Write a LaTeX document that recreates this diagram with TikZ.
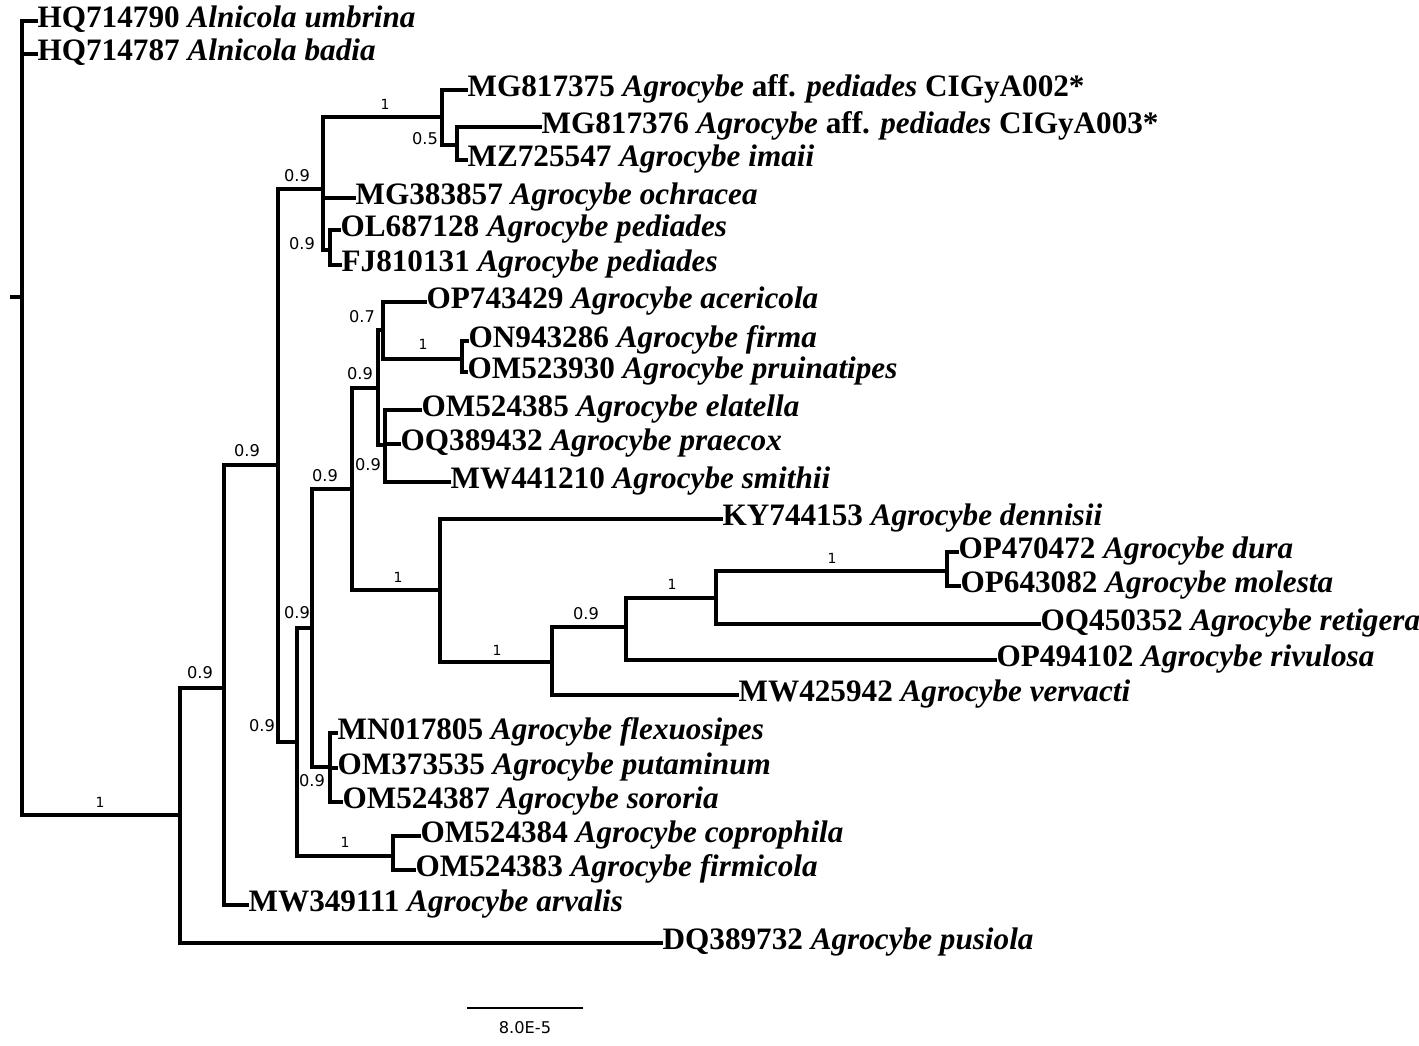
\documentclass[tikz,border=0pt]{standalone}
\usepackage{fontspec}
\setmainfont{Liberation Serif}
\newfontfamily\supfont{DejaVu Sans}
\begin{document}
\begin{tikzpicture}[x=0.5pt,y=-0.5pt,
  br/.style={line width=1.7pt, line join=miter, line cap=rect},
  leaf/.style={anchor=west, inner xsep=0.6pt, inner ysep=0pt, text height=0.68em, text depth=0pt,
    font=\fontsize{15.6}{18}\selectfont\bfseries},
  sup/.style={inner sep=0pt, font=\supfont\fontsize{8.1}{9}\selectfont},
  supone/.style={inner sep=0pt, font=\supfont\fontsize{7}{8}\selectfont}]
\useasboundingbox (0,0) rectangle (1419,1045);
\fill[white] (0,0) rectangle (1419,1045);

% leaves
\node[leaf] (umb) at (36,21) {HQ714790 \textit{Alnicola umbrina}};
\node[leaf] (bad) at (36,54) {HQ714787 \textit{Alnicola badia}};
\node[leaf] (mg75) at (466,90) {MG817375 \textit{Agrocybe} aff. \textit{pediades} CIGyA002*};
\node[leaf] (mg76) at (540,127) {MG817376 \textit{Agrocybe} aff. \textit{pediades} CIGyA003*};
\node[leaf] (mz) at (466,160) {MZ725547 \textit{Agrocybe imaii}};
\node[leaf] (mg83) at (354,198) {MG383857 \textit{Agrocybe ochracea}};
\node[leaf] (ol) at (339,230) {OL687128 \textit{Agrocybe pediades}};
\node[leaf] (fj) at (340,265) {FJ810131 \textit{Agrocybe pediades}};
\node[leaf] (op74) at (425,302) {OP743429 \textit{Agrocybe acericola}};
\node[leaf] (on) at (467,341) {ON943286 \textit{Agrocybe firma}};
\node[leaf] (om30) at (466,372) {OM523930 \textit{Agrocybe pruinatipes}};
\node[leaf] (om85) at (420,410) {OM524385 \textit{Agrocybe elatella}};
\node[leaf] (oq38) at (399,444) {OQ389432 \textit{Agrocybe praecox}};
\node[leaf] (mw44) at (449,482) {MW441210 \textit{Agrocybe smithii}};
\node[leaf] (ky) at (721,519) {KY744153 \textit{Agrocybe dennisii}};
\node[leaf] (op47) at (957,552) {OP470472 \textit{Agrocybe dura}};
\node[leaf] (op64) at (959,586) {OP643082 \textit{Agrocybe molesta}};
\node[leaf] (oq45) at (1039,624) {OQ450352 \textit{Agrocybe retigera}};
\node[leaf] (op49) at (995,660) {OP494102 \textit{Agrocybe rivulosa}};
\node[leaf] (mw42) at (737,695) {MW425942 \textit{Agrocybe vervacti}};
\node[leaf] (mn) at (336,733) {MN017805 \textit{Agrocybe flexuosipes}};
\node[leaf] (om35) at (336,768) {OM373535 \textit{Agrocybe putaminum}};
\node[leaf] (om87) at (341,802) {OM524387 \textit{Agrocybe sororia}};
\node[leaf] (om84) at (419,836) {OM524384 \textit{Agrocybe coprophila}};
\node[leaf] (om83) at (414,870) {OM524383 \textit{Agrocybe firmicola}};
\node[leaf] (mw34) at (247,905) {MW349111 \textit{Agrocybe arvalis}};
\node[leaf] (dq) at (661,943) {DQ389732 \textit{Agrocybe pusiola}};

% internal nodes
\coordinate (n0) at (22,297);
\coordinate (rootend) at (12,297);
\coordinate (n1) at (180,815);
\coordinate (n2) at (224,688);
\coordinate (n3) at (278,465);
\coordinate (n4) at (323,189);
\coordinate (n6) at (442,117);
\coordinate (n8) at (457,145);
\coordinate (n7) at (330,250);
\coordinate (n5) at (297,742);
\coordinate (n9) at (312,628);
\coordinate (n12) at (330,767);
\coordinate (n10) at (393,856);
\coordinate (n11) at (352,489);
\coordinate (n13) at (378,388);
\coordinate (n15) at (383,330);
\coordinate (n17) at (462,359);
\coordinate (n16) at (385,445);
\coordinate (n14) at (440,590);
\coordinate (n18) at (552,662);
\coordinate (n19) at (626,627);
\coordinate (n20) at (716,598);
\coordinate (n21) at (947,571);

% branches
\draw[br] (rootend) -- (n0);
\foreach \c/\p in {umb.west/n0, bad.west/n0, n1/n0,
  n2/n1, dq.west/n1,
  n3/n2, mw34.west/n2,
  n4/n3, n5/n3,
  n6/n4, mg83.west/n4, n7/n4,
  mg75.west/n6, n8/n6,
  mg76.west/n8, mz.west/n8,
  ol.west/n7, fj.west/n7,
  n9/n5, n10/n5,
  n11/n9, n12/n9,
  mn.west/n12, om35.west/n12, om87.west/n12,
  om84.west/n10, om83.west/n10,
  n13/n11, n14/n11,
  n15/n13, n16/n13,
  op74.west/n15, n17/n15,
  on.west/n17, om30.west/n17,
  om85.west/n16, oq38.west/n16, mw44.west/n16,
  ky.west/n14, n18/n14,
  n19/n18, mw42.west/n18,
  n20/n19, op49.west/n19,
  n21/n20, oq45.west/n20,
  op47.west/n21, op64.west/n21}
  \draw[br] (\c) -| (\p);

% support values
\node[supone] (s1) at (100,802) {1};
\node[sup] (s2) at (200,673) {0.9};
\node[sup] (s3) at (247,451) {0.9};
\node[sup] (s4) at (297,176) {0.9};
\node[sup] (s5) at (262,726) {0.9};
\node[supone] (s6) at (385,104) {1};
\node[sup] (s7) at (425,139) {0.5};
\node[sup] (s8) at (302,244) {0.9};
\node[sup] (s9) at (297,613) {0.9};
\node[supone] (s10) at (345,842) {1};
\node[sup] (s11) at (325,476) {0.9};
\node[sup] (s12) at (312,781) {0.9};
\node[sup] (s13) at (360,374) {0.9};
\node[supone] (s14) at (398,577) {1};
\node[sup] (s15) at (362,317) {0.7};
\node[supone] (s16) at (423,344) {1};
\node[sup] (s17) at (368,465) {0.9};
\node[supone] (s18) at (497,650) {1};
\node[sup] (s19) at (586,614) {0.9};
\node[supone] (s20) at (672,584) {1};
\node[supone] (s21) at (832,558) {1};

% scale bar
\coordinate (sbl) at (467,1008);
\coordinate (sbr) at (583,1008);
\draw[line width=1.3pt] (sbl) -- (sbr);
\node[sup] (sbt) at (525,1028) {8.0E-5};
\end{tikzpicture}
\end{document}
